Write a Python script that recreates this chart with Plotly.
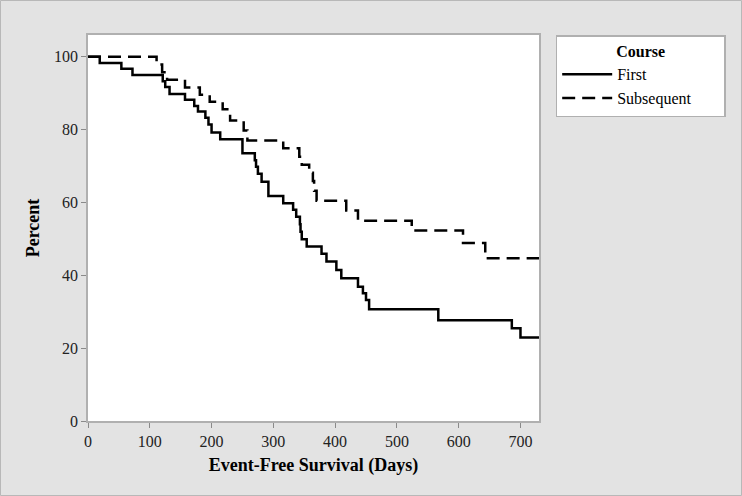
import plotly.graph_objects as go

# Kaplan-Meier style step data (day, percent)
first_days = [0, 19, 54, 72, 121, 125, 132, 157, 172, 178, 190, 195, 200, 214, 250,
              270, 272, 275, 281, 292, 316, 332, 337, 343, 344, 346, 354, 378, 386,
              402, 410, 437, 445, 450, 455, 567, 686, 700, 730]
first_pct = [100, 98.3, 96.7, 95.0, 93.3, 91.7, 89.8, 88.2, 86.5, 85.0, 83.3, 81.4, 79.2, 77.4, 73.5,
             71.6, 69.8, 67.9, 65.7, 61.8, 59.8, 58.0, 56.1, 54.0, 52.0, 49.9, 47.9, 45.9, 43.8,
             41.5, 39.2, 36.9, 35.1, 33.2, 30.7, 27.7, 25.5, 22.9, 22.9]

subseq_days = [0, 111, 120, 128, 157, 181, 197, 218, 230, 252, 258, 316, 342, 346, 358,
               364, 366, 370, 418, 437, 524, 607, 643, 730]
subseq_pct = [100, 97.9, 95.8, 93.7, 91.6, 89.6, 87.7, 85.6, 82.5, 79.8, 77.0, 74.9, 72.6, 70.4, 68.2,
              65.9, 63.2, 60.5, 57.8, 55.0, 52.3, 48.9, 44.7, 44.7]

x_ticks = [0, 100, 200, 300, 400, 500, 600, 700]
y_ticks = [0, 20, 40, 60, 80, 100]

FONT = "Liberation Serif"
GRID_GREY = "#b0b0b0"
PAD = "&nbsp;" * 7  # widens the legend box a little, like the original

fig = go.Figure()
fig.add_trace(go.Scatter(x=first_days, y=first_pct, name="First", mode="lines",
                         line=dict(shape="hv", color="black", width=2.5)))
fig.add_trace(go.Scatter(x=subseq_days, y=subseq_pct, name="Subsequent" + PAD, mode="lines",
                         line=dict(shape="hv", color="black", width=2.5, dash="13px,7px")))

axis_common = dict(showline=True, linecolor=GRID_GREY, linewidth=1.5, mirror=True,
                   ticks="outside", tickcolor="#8a8a8a", ticklen=5, showgrid=False,
                   zeroline=False, tickfont=dict(family=FONT, size=16, color="#222"))

fig.update_xaxes(range=[0, 730], tickvals=x_ticks, **axis_common,
                 title=dict(text="<b>Event-Free Survival (Days)</b>",
                            font=dict(family=FONT, size=18, color="black"), standoff=9))
fig.update_yaxes(range=[0, 106], tickvals=y_ticks, **axis_common,
                 title=dict(text="<b>Percent</b>",
                            font=dict(family=FONT, size=18, color="black"), standoff=10))

# outer frame of the whole picture
fig.add_shape(type="rect", xref="paper", yref="paper",
              x0=-87.5 / 451, x1=653.5 / 451, y0=-74.5 / 386, y1=1 + 34.5 / 386,
              line=dict(color="#b8b8b8", width=1), layer="below")

fig.update_layout(
    width=742, height=496,
    margin=dict(l=88, r=203, t=35, b=75),
    paper_bgcolor="#e3e3e3", plot_bgcolor="white",
    font=dict(family=FONT, color="black"),
    legend=dict(x=1.037, y=1.0, xanchor="left", yanchor="top",
                bgcolor="white", bordercolor=GRID_GREY, borderwidth=1.5,
                font=dict(family=FONT, size=16),
                title=dict(text="<b>Course</b>", side="top center",
                           font=dict(family=FONT, size=16)),
                tracegroupgap=0, itemwidth=50),
)

fig.write_html("out.html", config={"displayModeBar": False},
               post_script="document.body.style.margin='0';")
